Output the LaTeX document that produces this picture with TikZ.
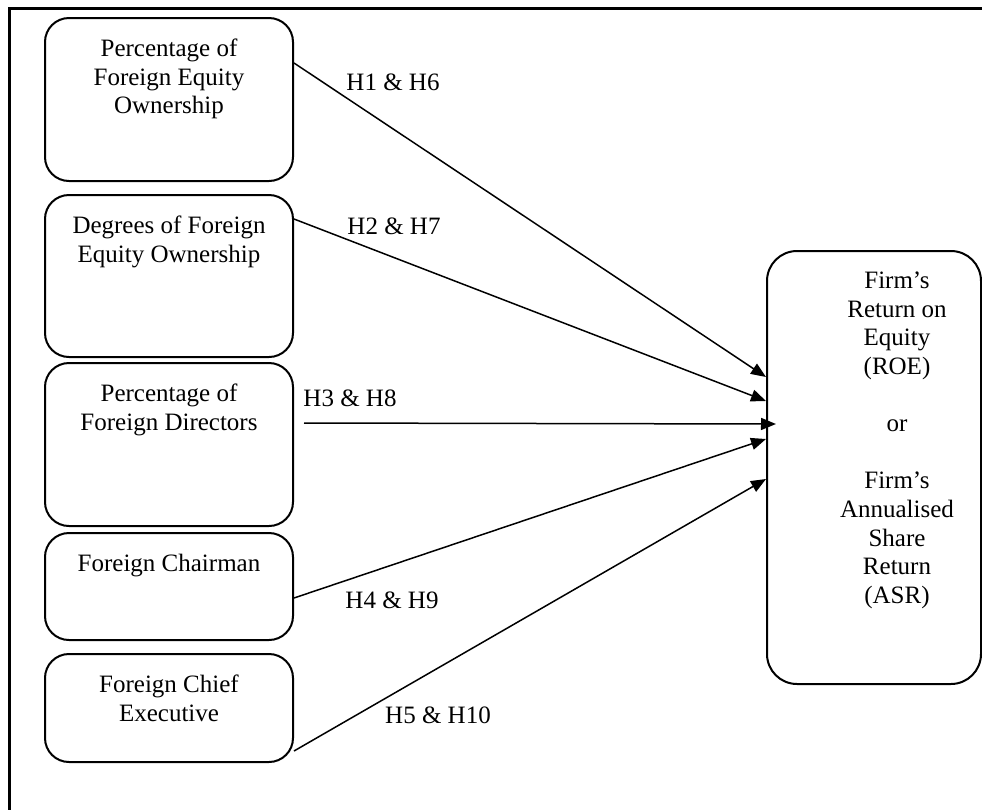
\documentclass[tikz,border=0pt]{standalone}
\usepackage{fontspec}
\setmainfont{Liberation Serif}
\usetikzlibrary{arrows.meta,calc}

\begin{document}
\begin{tikzpicture}[
  x=0.5pt, y=-0.5pt,
  font=\fontsize{12.5}{14.3}\selectfont,
  v/.style={draw, line width=1pt, rounded corners=12pt, minimum width=124pt, inner sep=0pt},
  t/.style={anchor=north, align=center, yshift=-7.5pt},
  h/.style={inner sep=0pt},
  d/.style={-{Triangle[length=7.5pt,width=6pt]}, line width=0.75pt}
]
\useasboundingbox (0,0) rectangle (982,810);
\draw[line width=1.5pt] (9,830) -- (9,8) -- (1000,8);

% left column
\node[v, minimum height=81.5pt, label={[t]north:Percentage of\\Foreign Equity\\Ownership}] (pfeo) at (169,99.5) {};
\node[v, minimum height=81pt, label={[t]north:Degrees of Foreign\\Equity Ownership}] (dfeo) at (169,276) {};
\node[v, minimum height=81.5pt, label={[t]north:Percentage of\\Foreign Directors}] (pfd) at (169,444.5) {};
\node[v, minimum height=53.5pt, label={[t]north:Foreign Chairman}] (fch) at (169,586.5) {};
\node[v, minimum height=54pt, label={[t]north:Foreign Chief\\Executive}] (fce) at (169,708) {};

% outcome
\node[v, rounded corners=15pt, minimum width=107pt, minimum height=216.5pt,
  label={[t, xshift=11.5pt]north:Firm’s\\Return on\\Equity\\(ROE)\\\\or\\\\Firm’s\\Annualised\\Share\\Return\\(ASR)}] (out) at (874,467.5) {};

% hypotheses
\node[h] (h1) at (393,82) {H1 \& H6};
\node[h] (h2) at (394,226) {H2 \& H7};
\node[h] (h3) at (350,398) {H3 \& H8};
\node[h] (h4) at (392,600) {H4 \& H9};
\node[h] (h5) at (438,715) {H5 \& H10};

\draw[d] ($(pfeo.north east)+(0,46)$) -- ($(out.north west)+(0,127)$);
\draw[d] ($(dfeo.north east)+(0,25)$) -- ($(out.north west)+(0,151)$);
\draw[d] ($(pfd.north east)+(10,61)$) -- ($(out.north west)+(10,174)$);
\draw[d] ($(fch.north east)+(0,66)$) -- ($(out.north west)+(0,189)$);
\draw[d] ($(fce.north east)+(0,98)$) -- ($(out.north west)+(0,229)$);
\end{tikzpicture}
\end{document}
